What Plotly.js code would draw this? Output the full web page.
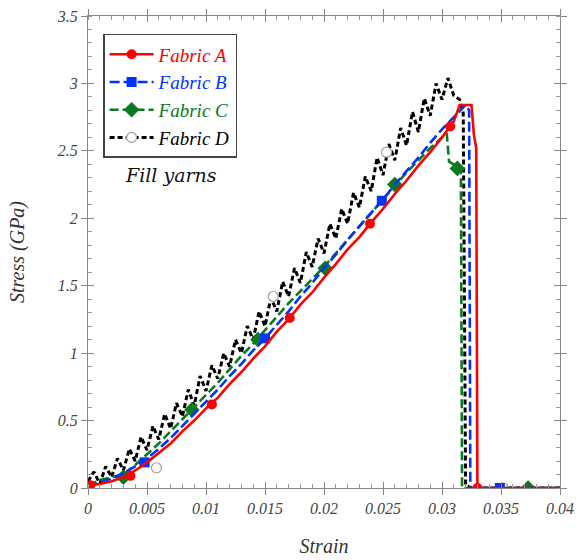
<!DOCTYPE html>
<html>
<head>
<meta charset="utf-8">
<script src="https://cdn.plot.ly/plotly-3.0.1.min.js"></script>
<style>html,body{margin:0;padding:0;background:#fff;}#chart{width:585px;height:560px;}</style>
</head>
<body>
<div id="chart"></div>
<script>
// ---- data ----
const seriesNames = ["Fabric A", "Fabric B", "Fabric C", "Fabric D"];

const strainA = [0,0.001,0.002,0.003,0.004,0.005,0.006,0.007,0.008,0.009,0.010,0.011,0.012,0.013,0.014,0.015,0.016,0.017,0.018,0.019,0.020,0.021,0.022,0.023,0.024,0.025,0.026,0.027,0.028,0.029,0.030,0.031,0.0315,0.0325,0.0327,0.0329,0.0330,0.034,0.040];
const stressA = [0.02,0.03,0.05,0.08,0.13,0.19,0.26,0.33,0.42,0.50,0.59,0.67,0.77,0.86,0.96,1.05,1.16,1.25,1.36,1.45,1.56,1.66,1.77,1.86,1.97,2.07,2.18,2.28,2.39,2.49,2.60,2.72,2.84,2.84,2.62,2.52,0,0,0];
const markStrainA = [0.0002,0.0036,0.0105,0.0171,0.0239,0.0307,0.0330];
const markStressA = [0.02,0.09,0.62,1.26,1.96,2.68,0];

const strainB = [0,0.001,0.002,0.003,0.004,0.005,0.006,0.007,0.008,0.009,0.010,0.011,0.012,0.013,0.014,0.015,0.016,0.017,0.018,0.019,0.020,0.021,0.022,0.023,0.024,0.025,0.026,0.027,0.028,0.029,0.030,0.031,0.032,0.0323,0.0324,0.040];
const stressB = [0.01,0.04,0.07,0.11,0.16,0.22,0.29,0.37,0.46,0.55,0.64,0.73,0.83,0.92,1.02,1.11,1.21,1.31,1.42,1.52,1.63,1.73,1.84,1.94,2.04,2.14,2.25,2.35,2.45,2.56,2.66,2.75,2.84,2.80,0,0];
const markStrainB = [0.0048,0.0150,0.0249,0.0349];
const markStressB = [0.19,1.11,2.13,0];

const strainC = [0,0.001,0.002,0.003,0.004,0.005,0.006,0.007,0.008,0.009,0.010,0.011,0.012,0.013,0.014,0.015,0.016,0.017,0.018,0.019,0.020,0.021,0.022,0.023,0.024,0.025,0.026,0.027,0.028,0.029,0.030,0.0304,0.0306,0.031,0.0316,0.0317,0.040];
const stressC = [0.02,0.06,0.08,0.10,0.17,0.25,0.33,0.42,0.51,0.60,0.69,0.78,0.88,0.98,1.07,1.17,1.27,1.37,1.46,1.55,1.64,1.74,1.84,1.94,2.04,2.14,2.24,2.34,2.43,2.52,2.60,2.63,2.42,2.40,2.36,0,0];
const markStrainC = [0.0030,0.0088,0.0144,0.0201,0.0260,0.0313,0.0373];
const markStressC = [0.08,0.58,1.10,1.63,2.25,2.37,0];

const strainD = [0,0.0005,0.001,0.0015,0.002,0.0025,0.003,0.0035,0.004,0.0045,0.005,0.0055,0.006,0.0065,0.007,0.0075,0.008,0.0085,0.009,0.0095,0.010,0.0105,0.011,0.0115,0.012,0.0125,0.013,0.0135,0.014,0.0145,0.015,0.0155,0.016,0.0165,0.017,0.0175,0.018,0.0185,0.019,0.0195,0.020,0.0205,0.021,0.0215,0.022,0.0225,0.023,0.0235,0.024,0.0245,0.025,0.0255,0.026,0.0265,0.027,0.0275,0.028,0.0285,0.029,0.0295,0.030,0.0305,0.031,0.0315,0.0318,0.0320,0.0325,0.040];
const stressD = [0.05,0.12,0.03,0.16,0.08,0.22,0.13,0.29,0.20,0.38,0.28,0.46,0.36,0.55,0.44,0.63,0.53,0.73,0.61,0.83,0.72,0.91,0.81,1.00,0.90,1.10,1.00,1.20,1.10,1.31,1.20,1.41,1.31,1.53,1.42,1.63,1.52,1.75,1.64,1.85,1.74,1.96,1.85,2.07,1.96,2.19,2.08,2.31,2.20,2.45,2.32,2.55,2.43,2.67,2.54,2.79,2.64,2.89,2.76,3.00,2.88,3.04,2.91,2.88,2.78,0.02,0,0];
const markStrainD = [0.0058,0.0157,0.0253,0.0352];
const markStressD = [0.15,1.42,2.49,0];

const xTickVals = [0,0.005,0.01,0.015,0.02,0.025,0.03,0.035,0.04];
const xTickText = ["0","0.005","0.01","0.015","0.02","0.025","0.03","0.035","0.04"];
const yTickVals = [0,0.5,1,1.5,2,2.5,3,3.5];
const yTickText = ["0","0.5","1","1.5","2","2.5","3","3.5"];

// ---- styles ----
const colors = ["#ff0000", "#0033ff", "#0a7a1e", "#000000"];
const dashes = ["solid", "10px,4px", "9px,4px", "5px,3px"];
const widths = [2.6, 2.6, 2.6, 3];
const markers = [
  {symbol:"circle", size:10, color:"#ff0000"},
  {symbol:"square", size:10, color:"#0033ff"},
  {symbol:"diamond", size:12, color:"#0a7a1e"},
  {symbol:"circle", size:10, color:"#ffffff", line:{color:"#a0a0a0", width:1.2}}
];
const lines = [[strainA,stressA],[strainB,stressB],[strainC,stressC],[strainD,stressD]];
const marks = [[markStrainA,markStressA],[markStrainB,markStressB],[markStrainC,markStressC],[markStrainD,markStressD]];

const traces = [];
[3,2,1,0].forEach(i => {
  traces.push({x:lines[i][0], y:lines[i][1], mode:"lines", type:"scatter", showlegend:false,
    line:{color:colors[i], width:widths[i], dash:dashes[i]}, hoverinfo:"skip"});
  traces.push({x:marks[i][0], y:marks[i][1], mode:"markers", type:"scatter", showlegend:false,
    marker:markers[i], hoverinfo:"skip"});
});
[0,1,2,3].forEach(i => {
  traces.push({x:[null], y:[null], mode:"lines+markers", type:"scatter",
    name:'<span style="color:'+colors[i]+'">'+seriesNames[i]+'</span>',
    line:{color:colors[i], width:widths[i], dash:dashes[i]}, marker:markers[i]});
});
traces.push({x:[0], y:[0], xaxis:"x2", yaxis:"y2", mode:"markers", marker:{opacity:0}, showlegend:false, hoverinfo:"skip"});

const serif = "Liberation Serif, Times New Roman, serif";
const tickFont = {family:serif, size:16, color:"#444", style:"italic"};

const layout = {
  width:585, height:560,
  margin:{l:88, r:25, t:16, b:72},
  paper_bgcolor:"#fff", plot_bgcolor:"#fff",
  showlegend:true,
  legend:{x:0.032, y:0.962, xanchor:"left", yanchor:"top", bgcolor:"#fff",
    bordercolor:"#444", borderwidth:1.5, font:{family:serif, size:19, style:"italic"},
    tracegroupgap:0, itemwidth:44},
  xaxis:{range:[0,0.04], tickvals:xTickVals, ticktext:xTickText, tickfont:tickFont,
    ticks:"outside", ticklen:6, tickcolor:"#888", showline:true, linecolor:"#888", linewidth:1,
    mirror:"allticks", showgrid:false, zeroline:false,
    minor:{dtick:0.001, ticks:"inside", ticklen:4, tickcolor:"#999", showgrid:false},
    title:{text:"Strain", font:{family:serif, size:20, color:"#333", style:"italic"}, standoff:22}},
  yaxis:{range:[0,3.5], tickvals:yTickVals, ticktext:yTickText, tickfont:tickFont,
    ticks:"outside", ticklen:6, tickcolor:"#888", showline:true, linecolor:"#888", linewidth:1,
    mirror:"allticks", showgrid:false, zeroline:false,
    minor:{dtick:0.1, ticks:"inside", ticklen:4, tickcolor:"#999", showgrid:false},
    title:{text:"Stress (GPa)", font:{family:serif, size:20, color:"#333", style:"italic"}, standoff:26}},
  xaxis2:{overlaying:"x", matches:"x", range:[0,0.04], tickvals:xTickVals, ticks:"inside", ticklen:6,
    tickcolor:"#888", showticklabels:false, showline:false, mirror:"ticks", showgrid:false, zeroline:false},
  yaxis2:{overlaying:"y", matches:"y", range:[0,3.5], tickvals:yTickVals, ticks:"inside", ticklen:6,
    tickcolor:"#888", showticklabels:false, showline:false, mirror:"ticks", showgrid:false, zeroline:false},
  annotations:[{x:0.00705, y:2.32, xref:"x", yref:"y", text:"Fill yarns", showarrow:false,
    font:{family:"DejaVu Serif, serif", size:19, color:"#111", style:"italic"}}]
};

Plotly.newPlot("chart", traces, layout, {displayModeBar:false, staticPlot:true});
</script>
</body>
</html>
